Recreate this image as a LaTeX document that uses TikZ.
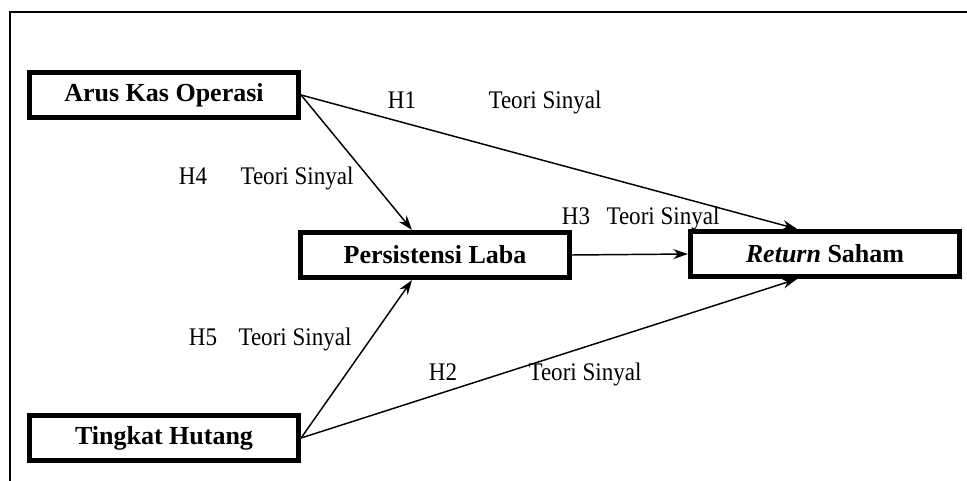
\documentclass[tikz,border=0pt]{standalone}
\usepackage{fontspec}
\setmainfont{Liberation Serif}
\newfontfamily\lblfont{Liberation Serif}[FakeStretch=0.91]
\usetikzlibrary{arrows.meta,calc,positioning}
\tikzset{
  var/.style={draw,line width=3.6pt,minimum width=202pt,minimum height=34pt,inner sep=0pt,
    font=\fontsize{19.5}{22}\selectfont\bfseries},
  lbl/.style={anchor=base,inner sep=0pt,font=\lblfont\fontsize{19}{22}\selectfont}
}

\begin{document}
\begin{tikzpicture}[x=0.75pt,y=-0.75pt]
\useasboundingbox (0,0) rectangle (967,481);
\draw[line width=1.3pt] (10,481) -- (10,12) -- (967,12);
\node[var] (A) at (164,95) {Arus Kas Operasi};
\node[var] (T) at (164,438) {Tingkat Hutang};
\node[var] (P) at (435,255) {Persistensi Laba};
\node[var] (R) at (825,254) {\textit{Return} Saham};
\node[lbl] (h1) at (402,109) {H1};
\node[lbl] (s1) at (545,109) {Teori Sinyal};
\node[lbl] (h4) at (193,185) {H4};
\node[lbl] (s4) at (297,185) {Teori Sinyal};
\node[lbl] (h3) at (576,224) {H3};
\node[lbl] (s3) at (663,224) {Teori Sinyal};
\node[lbl] (h5) at (203,345) {H5};
\node[lbl] (s5) at (295,345) {Teori Sinyal};
\node[lbl] (h2) at (443,380) {H2};
\node[lbl] (s2) at (585,380) {Teori Sinyal};
\path[-{Stealth[length=11pt,width=7.5pt]},line width=1.1pt]
(A.east) edge ($(R.north)+(-28,0)$)
(A.east) edge ($(P.north)+(-23,0)$)
(P.east) edge (R.west)
(T.east) edge ($(P.south)+(-23,0)$)
(T.east) edge ($(R.south)+(-28,0)$);
\end{tikzpicture}
\end{document}
